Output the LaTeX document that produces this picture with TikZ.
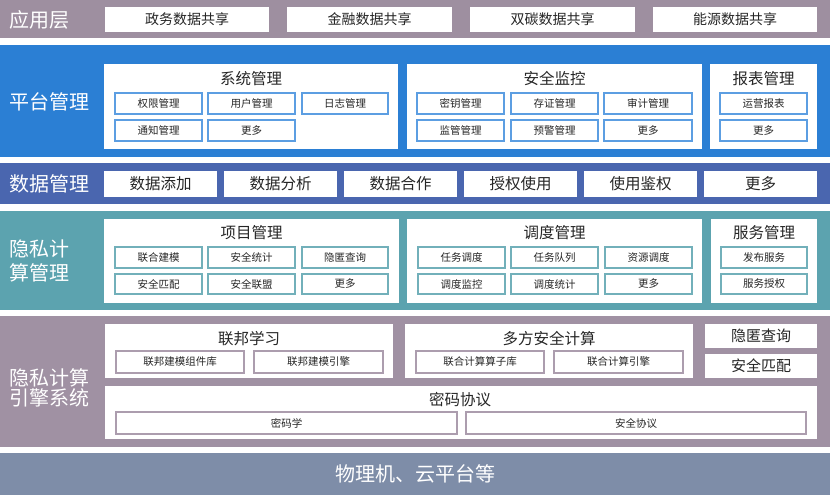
\documentclass[tikz,border=0pt]{standalone}
\usepackage{fontspec}
\setmainfont{Noto Sans CJK SC}
\definecolor{appc}{HTML}{9E8FA0}
\definecolor{platc}{HTML}{2B7FD4}
\definecolor{datac}{HTML}{4A66AF}
\definecolor{tealc}{HTML}{5CA3AF}
\definecolor{engc}{HTML}{A091A3}
\definecolor{basec}{HTML}{7E8DA8}
\definecolor{txt}{HTML}{262626}
\definecolor{bluebd}{HTML}{5C9EE2}
\definecolor{tealbd}{HTML}{72B0BA}
\definecolor{purpbd}{HTML}{AC9DAE}
\newcommand\bx[7]{\node[#6, minimum width={(#4)-(#2)}, minimum height={(#5)-(#3)}] (#1) at ({(#2+#4)/2},{(#3+#5)/2}) {#7};}
\tikzset{
  band/.style={fill=#1, inner sep=0pt, outer sep=0pt, draw=none},
  panel/.style={fill=white, inner sep=0pt, outer sep=0pt, draw=none},
  bigitem/.style={fill=white, inner sep=0pt, outer sep=0pt, draw=none, text=txt, font=\fontsize{14}{16}\selectfont},
  dataitem/.style={fill=white, inner sep=0pt, outer sep=0pt, draw=none, text=txt, font=\fontsize{15.5}{18}\selectfont},
  sideitem/.style={fill=white, inner sep=0pt, outer sep=0pt, draw=none, text=txt, font=\fontsize{15}{18}\selectfont},
  subitem/.style={fill=white, draw=#1, line width=1.3pt, inner sep=0pt, outer sep=0pt, text=txt, font=\fontsize{10.5}{12}\selectfont},
  ptitle/.style={text=txt, inner sep=0pt, font=\fontsize{15.5}{18}\selectfont},
  blabel/.style={text=white, inner sep=0pt, anchor=west, align=left, font=\fontsize{20}{24}\selectfont},
}
\begin{document}
\begin{tikzpicture}[x=1pt,y=-1pt]
\useasboundingbox (0,0) rectangle (830,495);
\fill[white] (0,0) rectangle (830,495);
% ---------- application layer
\bx{appband}{0}{0}{830}{38}{band=appc}{}
\node[blabel] (applbl) at (9,20) {应用层};
\bx{a1}{105}{7}{269}{32}{bigitem}{政务数据共享}
\bx{a2}{287}{7}{452}{32}{bigitem}{金融数据共享}
\bx{a3}{470}{7}{635}{32}{bigitem}{双碳数据共享}
\bx{a4}{653}{7}{817}{32}{bigitem}{能源数据共享}
% ---------- platform management
\bx{platband}{0}{45}{830}{157}{band=platc}{}
\node[blabel] (platlbl) at (9,102) {平台管理};
\bx{sys}{104}{64}{398}{149}{panel}{}
\node[ptitle] (systitle) at (251,79) {系统管理};
\bx{s1}{115}{93}{202}{114}{subitem=bluebd}{权限管理}
\bx{s2}{208}{93}{295}{114}{subitem=bluebd}{用户管理}
\bx{s3}{302}{93}{388}{114}{subitem=bluebd}{日志管理}
\bx{s4}{115}{120}{202}{141}{subitem=bluebd}{通知管理}
\bx{s5}{208}{120}{295}{141}{subitem=bluebd}{更多}
\bx{sec}{407}{64}{702}{149}{panel}{}
\node[ptitle] (sectitle) at (554.5,79) {安全监控};
\bx{m1}{417}{93}{504}{114}{subitem=bluebd}{密钥管理}
\bx{m2}{511}{93}{598}{114}{subitem=bluebd}{存证管理}
\bx{m3}{604}{93}{692}{114}{subitem=bluebd}{审计管理}
\bx{m4}{417}{120}{504}{141}{subitem=bluebd}{监管管理}
\bx{m5}{511}{120}{598}{141}{subitem=bluebd}{预警管理}
\bx{m6}{604}{120}{692}{141}{subitem=bluebd}{更多}
\bx{rep}{710}{64}{817}{149}{panel}{}
\node[ptitle] (reptitle) at (763.5,79) {报表管理};
\bx{r1}{720}{93}{807}{114}{subitem=bluebd}{运营报表}
\bx{r2}{720}{120}{807}{141}{subitem=bluebd}{更多}
% ---------- data management
\bx{databand}{0}{163}{830}{204}{band=datac}{}
\node[blabel] (datalbl) at (9,184) {数据管理};
\bx{d1}{104}{171}{217}{197}{dataitem}{数据添加}
\bx{d2}{224}{171}{337}{197}{dataitem}{数据分析}
\bx{d3}{344}{171}{457}{197}{dataitem}{数据合作}
\bx{d4}{464}{171}{577}{197}{dataitem}{授权使用}
\bx{d5}{584}{171}{697}{197}{dataitem}{使用鉴权}
\bx{d6}{704}{171}{817}{197}{dataitem}{更多}
% ---------- privacy computing management
\bx{tealband}{0}{211}{830}{310}{band=tealc}{}
\node[blabel] (teallbl) at (9,261) {隐私计\\算管理};
\bx{proj}{104}{219}{399}{303}{panel}{}
\node[ptitle] (projtitle) at (251.5,233) {项目管理};
\bx{p1}{115}{247}{202}{268}{subitem=tealbd}{联合建模}
\bx{p2}{208}{247}{295}{268}{subitem=tealbd}{安全统计}
\bx{p3}{302}{247}{388}{268}{subitem=tealbd}{隐匿查询}
\bx{p4}{115}{274}{202}{294}{subitem=tealbd}{安全匹配}
\bx{p5}{208}{274}{295}{294}{subitem=tealbd}{安全联盟}
\bx{p6}{302}{274}{388}{294}{subitem=tealbd}{更多}
\bx{sch}{407}{219}{702}{303}{panel}{}
\node[ptitle] (schtitle) at (554.5,233) {调度管理};
\bx{c1}{418}{247}{505}{268}{subitem=tealbd}{任务调度}
\bx{c2}{511}{247}{598}{268}{subitem=tealbd}{任务队列}
\bx{c3}{605}{247}{692}{268}{subitem=tealbd}{资源调度}
\bx{c4}{418}{274}{505}{294}{subitem=tealbd}{调度监控}
\bx{c5}{511}{274}{598}{294}{subitem=tealbd}{调度统计}
\bx{c6}{605}{274}{692}{294}{subitem=tealbd}{更多}
\bx{svc}{711}{219}{817}{303}{panel}{}
\node[ptitle] (svctitle) at (764,233) {服务管理};
\bx{v1}{721}{247}{807}{268}{subitem=tealbd}{发布服务}
\bx{v2}{721}{274}{807}{294}{subitem=tealbd}{服务授权}
% ---------- engine system
\bx{engband}{0}{316}{830}{447}{band=engc}{}
\node[blabel, font=\fontsize{20}{20}\selectfont] (englbl) at (9,387.5) {隐私计算\\引擎系统};
\bx{fl}{105}{324}{393}{378}{panel}{}
\node[ptitle] (fltitle) at (249,339) {联邦学习};
\bx{f1}{116}{351}{244}{373}{subitem=purpbd}{联邦建模组件库}
\bx{f2}{254}{351}{383}{373}{subitem=purpbd}{联邦建模引擎}
\bx{mpc}{405}{324}{693}{378}{panel}{}
\node[ptitle] (mpctitle) at (549,339) {多方安全计算};
\bx{q1}{416}{351}{544}{373}{subitem=purpbd}{联合计算算子库}
\bx{q2}{554}{351}{683}{373}{subitem=purpbd}{联合计算引擎}
\bx{pir}{705}{324}{817}{348}{sideitem}{隐匿查询}
\bx{psi}{705}{354}{817}{378}{sideitem}{安全匹配}
\bx{cry}{105}{386}{817}{439}{panel}{}
\node[ptitle] (crytitle) at (460,400) {密码协议};
\bx{k1}{116}{412}{457}{434}{subitem=purpbd}{密码学}
\bx{k2}{466}{412}{806}{434}{subitem=purpbd}{安全协议}
% ---------- base
\bx{baseband}{0}{453}{830}{495}{band=basec}{}
\node[text=white, inner sep=0pt, font=\fontsize{20}{24}\selectfont] (baselbl) at (415,474) {物理机、云平台等};
\end{tikzpicture}
\end{document}
